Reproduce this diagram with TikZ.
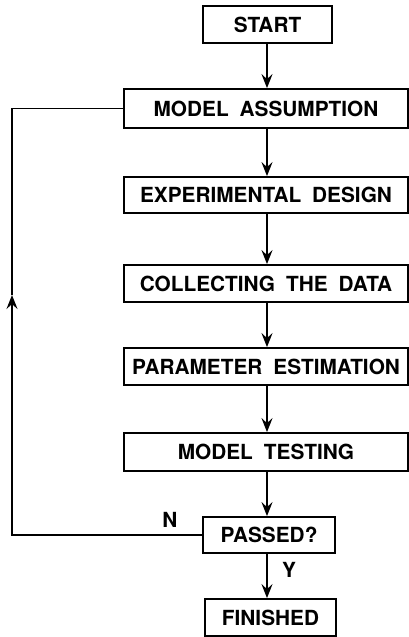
\documentclass[tikz,border=0pt]{standalone}
\usepackage{fontspec}
\setmainfont[WordSpace=1.9]{TeX Gyre Heros}
\usetikzlibrary{arrows.meta,calc}

\tikzset{
  flowbox/.style={draw, line width=1.8pt, rectangle, inner sep=0pt,
    font=\fontsize{20.8}{24}\selectfont\bfseries},
  wide/.style={flowbox, minimum width=284pt},
  flowarrow/.style={line width=1.9pt, -{Stealth[length=14pt,width=11pt,inset=5pt]}},
  loopline/.style={line width=1.9pt},
  branchlabel/.style={font=\fontsize{20.8}{24}\selectfont\bfseries, inner sep=0pt}
}

\begin{document}
\begin{tikzpicture}[x=1pt,y=-1pt]
  \useasboundingbox (0,0) rectangle (409,637);

  % main column of steps
  \node[flowbox, minimum width=129pt, minimum height=37pt] (start) at (267.5,24.5) {START};
  \node[wide, minimum height=39pt] (assume) at (266,108.5) {MODEL ASSUMPTION};
  \node[wide, minimum height=36pt] (design) at (266,195) {EXPERIMENTAL DESIGN};
  \node[wide, minimum height=37pt] (collect) at (266,283.5) {COLLECTING THE DATA};
  \node[wide, minimum height=37pt] (estim) at (266,366.5) {PARAMETER ESTIMATION};
  \node[wide, minimum height=38pt] (testing) at (266,452) {MODEL TESTING};
  \node[flowbox, minimum width=132pt, minimum height=36pt] (passed) at (269,535) {PASSED?};
  \node[flowbox, minimum width=131pt, minimum height=37pt] (finished) at (270.5,617.5) {FINISHED};

  % vertical axis of the flow arrows
  \coordinate (axis) at (267,0);

  \draw[flowarrow] (start.south -| axis) -- (assume.north -| axis);
  \draw[flowarrow] (assume.south -| axis) -- (design.north -| axis);
  \draw[flowarrow] (design.south -| axis) -- (collect.north -| axis);
  \draw[flowarrow] (collect.south -| axis) -- (estim.north -| axis);
  \draw[flowarrow] (estim.south -| axis) -- (testing.north -| axis);
  \draw[flowarrow] (testing.south -| axis) -- (passed.north -| axis);
  \draw[flowarrow] (passed.south -| axis) -- (finished.north -| axis);

  % feedback loop on failure
  \coordinate (loopbottom) at (12,535);
  \coordinate (looptip) at (12,295);
  \coordinate (looptop) at (12,108.5);
  \draw[flowarrow] (passed.west) -- (loopbottom) -- (looptip);
  \draw[loopline] (looptip) -- (looptop) -- (assume.west);

  % branch labels
  \node[branchlabel] (nlabel) at (170,520) {N};
  \node[branchlabel] (ylabel) at (289,570) {Y};
\end{tikzpicture}
\end{document}
